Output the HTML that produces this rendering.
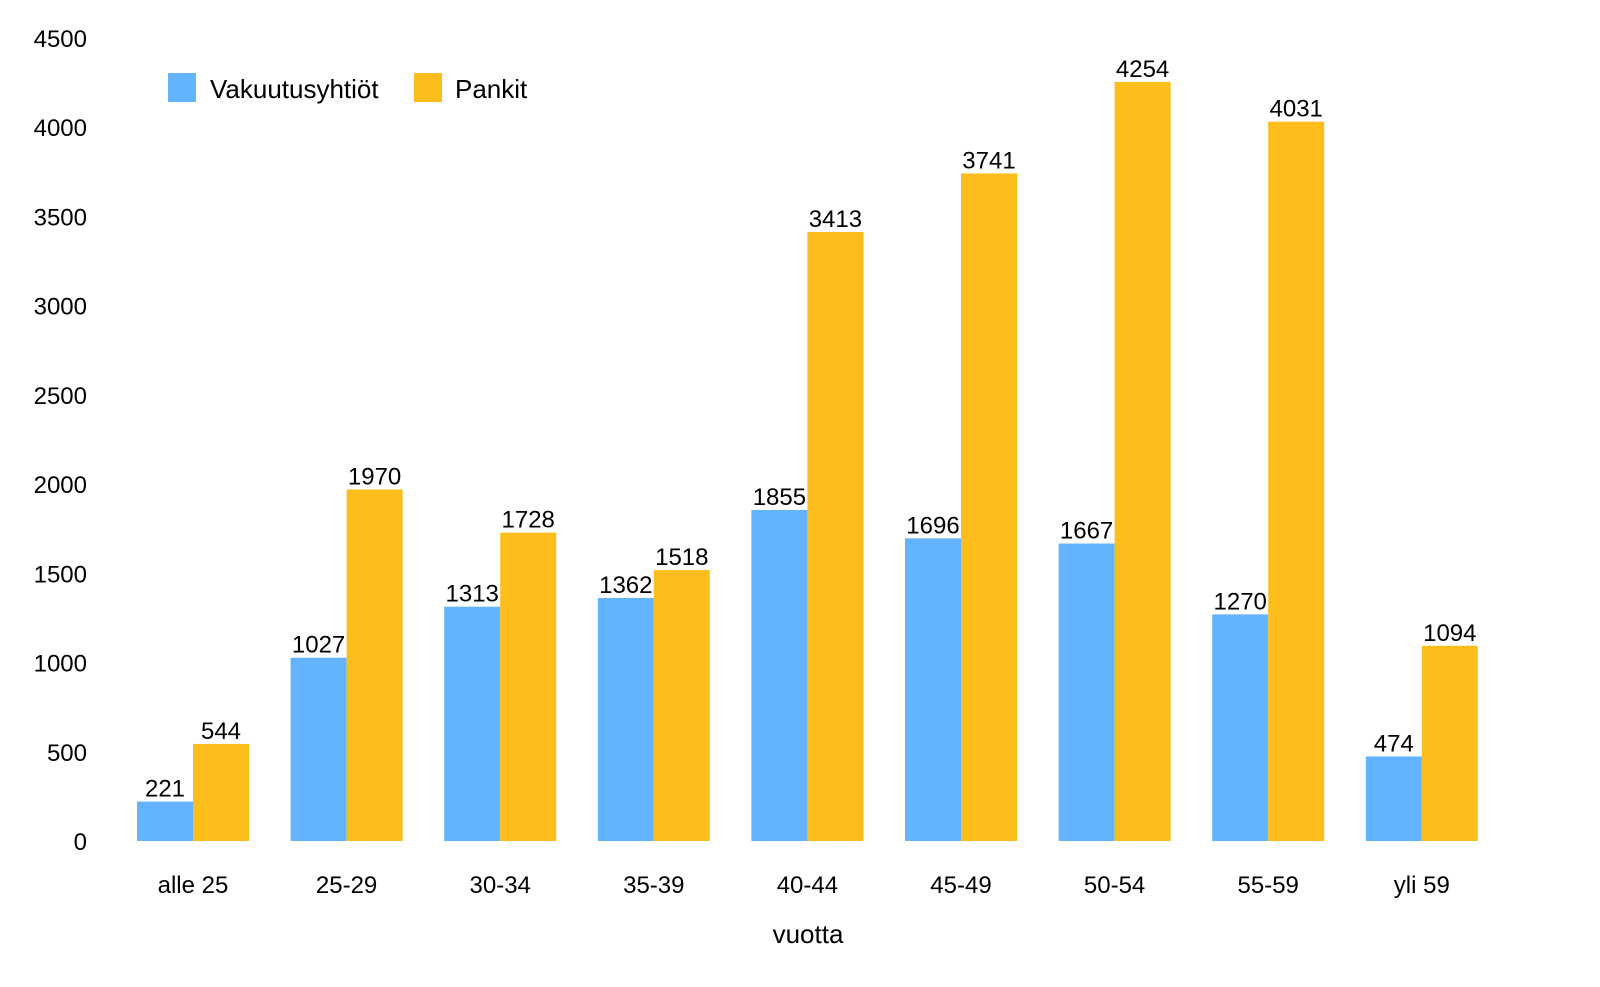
<!DOCTYPE html>
<html><head><meta charset="utf-8"><style>
html,body{margin:0;padding:0;background:#fff;}
svg{display:block;font-family:"Liberation Sans",Arial,sans-serif;}
</style></head><body>
<svg id="chart" width="1600" height="987">
<g id="yaxis"></g>
<g id="bars"></g>
<g id="xaxis"></g>
<text x="808" y="943" text-anchor="middle" font-size="26" fill="#000">vuotta</text>
<g>
<rect x="168" y="73" width="28" height="29" fill="#63b4fc"/>
<text x="210" y="98" font-size="26" fill="#000">Vakuutusyhtiöt</text>
<rect x="414" y="73" width="28" height="29" fill="#fdbd1c"/>
<text x="455" y="98" font-size="26" fill="#000">Pankit</text>
</g>
</svg>
<script>
const categories = ["alle 25","25-29","30-34","35-39","40-44","45-49","50-54","55-59","yli 59"];
const vakuutus = [221,1027,1313,1362,1855,1696,1667,1270,474];
const pankit = [544,1970,1728,1518,3413,3741,4254,4031,1094];
const yTicks = [0,500,1000,1500,2000,2500,3000,3500,4000,4500];
const NS="http://www.w3.org/2000/svg";
const y0=841, yTop=38, yMax=4500;
function y(v){return y0-(v/yMax)*(y0-yTop);}
const x0=193, step=153.6, bw=56;
function xc(i){return x0+i*step;}
function mk(tag,attrs,parent){const e=document.createElementNS(NS,tag);for(const k in attrs)e.setAttribute(k,attrs[k]);parent.appendChild(e);return e;}
const ya=document.getElementById('yaxis'), bars=document.getElementById('bars'), xa=document.getElementById('xaxis');
yTicks.forEach(t=>{
  const e=mk('text',{x:87,y:y(t)+9,'text-anchor':'end','font-size':24,fill:'#000'},ya);
  e.textContent=t;
  
  
});
categories.forEach((c,i)=>{
  const cx=xc(i);
  const series=[[vakuutus[i],cx-bw,'#63b4fc','bar-vakuutusyhtiot'],[pankit[i],cx,'#fdbd1c','bar-pankit']];
  series.forEach(s=>{
    const r=mk('rect',{x:s[1],y:y(s[0]),width:bw,height:y0-y(s[0]),fill:s[2]},bars);
    
    
    const t=mk('text',{x:s[1]+bw/2,y:y(s[0])-5,'text-anchor':'middle','font-size':24,fill:'#000'},bars);
    t.textContent=s[0];
    
    
  });
  const l=mk('text',{x:cx,y:893,'text-anchor':'middle','font-size':24,fill:'#000'},xa);
  l.textContent=c;
  
  
});
</script>
</body></html>
